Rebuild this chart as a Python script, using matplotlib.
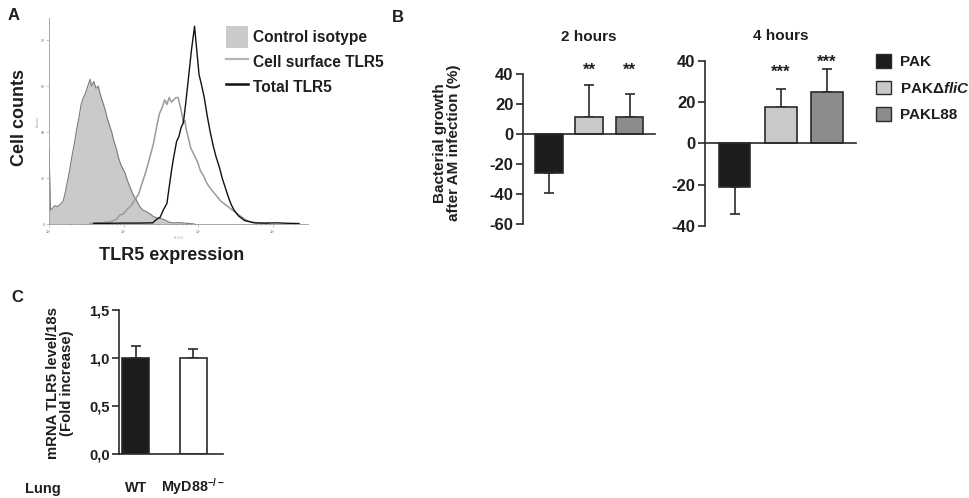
import matplotlib

matplotlib.use("Agg")
import matplotlib.pyplot as plt
import numpy as np
from matplotlib.lines import Line2D
from matplotlib.patches import Patch

plt.rcParams["font.family"] = ["Liberation Sans", "DejaVu Sans"]
plt.rcParams["font.weight"] = "bold"
plt.rcParams["axes.labelweight"] = "bold"
plt.rcParams["axes.unicode_minus"] = False
plt.rcParams["mathtext.fontset"] = "custom"
plt.rcParams["mathtext.rm"] = "Liberation Sans:bold"
plt.rcParams["mathtext.it"] = "Liberation Sans:italic:bold"
plt.rcParams["mathtext.bf"] = "Liberation Sans:bold"

TXT = "#1e1e1e"
INK = "#2a2a2a"

# ---- panel A: flow histogram (log10 fluorescence, cell counts) ----
iso_log = [0.00, 0.02, 0.05, 0.08, 0.11, 0.15, 0.19, 0.22, 0.25, 0.28, 0.31, 0.34,
           0.37, 0.40, 0.43, 0.46, 0.49, 0.52, 0.55, 0.57, 0.60, 0.63, 0.66, 0.69,
           0.72, 0.75, 0.78, 0.81, 0.84, 0.87, 0.90, 0.93, 0.96, 0.99, 1.02, 1.05,
           1.08, 1.11, 1.14, 1.17, 1.20, 1.23, 1.26, 1.30, 1.35, 1.40, 1.45, 1.50,
           1.55, 1.60, 1.65, 1.75, 1.85, 1.95]
iso_cnt = [33, 6, 7, 8, 7.5, 8.5, 10, 14, 19, 24, 30, 35,
           41, 46, 52, 55, 57, 60, 63, 60, 62, 59, 60, 56,
           53, 50, 46, 43, 40, 36, 33, 29, 26, 24, 22, 19,
           16.5, 14, 12, 10.5, 8.5, 7, 6, 5.5, 4.5, 3.2, 2.6, 2.4,
           1.8, 0.9, 0.5, 0.6, 0.3, 0.0]

surf_log = [0.55, 0.70, 0.82, 0.90, 0.95, 1.00, 1.05, 1.10, 1.15, 1.20, 1.25, 1.30,
            1.35, 1.40, 1.44, 1.48, 1.52, 1.55, 1.58, 1.61, 1.64, 1.67, 1.70, 1.73,
            1.76, 1.78, 1.80, 1.82, 1.84, 1.87, 1.90, 1.93, 1.96, 1.99, 2.03, 2.07,
            2.11, 2.15, 2.20, 2.25, 2.30, 2.36, 2.42, 2.48, 2.54, 2.60, 2.66, 2.72,
            2.82, 2.95]
surf_cnt = [0.3, 0.5, 0.9, 2.0, 3.9, 4.5, 6.5, 8, 10.5, 13, 18, 23,
            29, 35, 42, 48, 51, 54, 52, 55, 53, 54, 55, 55,
            51, 48, 44, 45, 41, 37, 33, 31, 29, 27, 23, 21,
            18, 16, 14, 12, 10, 8.5, 7, 5.5, 4, 2.6, 1.4, 0.8,
            0.4, 0.2]

tot_log = [0.60, 0.80, 1.00, 1.20, 1.39, 1.44, 1.49, 1.53, 1.58, 1.61, 1.64, 1.67,
           1.71, 1.74, 1.77, 1.80, 1.83, 1.85, 1.87, 1.89, 1.91, 1.93, 1.95, 1.97,
           1.99, 2.01, 2.04, 2.08, 2.12, 2.16, 2.20, 2.24, 2.28, 2.32, 2.36, 2.40,
           2.44, 2.48, 2.54, 2.62, 2.75, 2.90, 3.05, 3.20, 3.35]
tot_cnt = [0.3, 0.3, 0.4, 0.4, 0.5, 2, 3, 6, 9, 16, 23, 29,
           36, 38, 42, 44, 52, 58, 64, 70, 76, 81, 86, 79,
           72, 65, 61, 55, 47, 40, 34, 29, 25, 20, 16, 12,
           8.5, 6, 3.5, 1.5, 0.5, 0.4, 0.5, 0.3, 0.2]

# ---- panel B: bacterial growth after AM infection (%) ----
strains = ["PAK", "PAK\u0394$\\mathit{fliC}$", "PAKL88"]
bar_colors = ["#1c1c1c", "#c9c9c9", "#8c8c8c"]
growth_2h = [-25.8, 11.5, 11.5]
err_2h = [13.7, 21.5, 15.0]
stars_2h = ["", "**", "**"]
star_y_2h = [0, 42.7, 42.7]
growth_4h = [-21.4, 17.8, 24.8]
err_4h = [13.1, 8.4, 11.2]
stars_4h = ["", "***", "***"]
star_y_4h = [0, 34.3, 39.6]

# ---- panel C: TLR5 mRNA ----
mice = ["WT", "MyD88$^{-/-}$"]
mrna = [1.0, 1.0]
mrna_err = [0.13, 0.09]
mice_colors = ["#1c1c1c", "white"]

W, H = 970, 498
fig = plt.figure(figsize=(W / 100, H / 100), dpi=100)


def box(l, t, r, b):
    return [l / W, 1 - b / H, (r - l) / W, (b - t) / H]


# ================= A =================
axA = fig.add_axes(box(49, 18, 308, 224))
xi = 10 ** np.array(iso_log)
axA.fill_between(xi, iso_cnt, color="#cacaca", lw=0)
axA.plot(xi, iso_cnt, color="#7a7a7a", lw=0.8)
axA.plot(10 ** np.array(surf_log), surf_cnt, color="#9a9a9a", lw=1.1)
axA.plot(10 ** np.array(tot_log), tot_cnt, color="#111111", lw=1.0)
axA.set_xscale("log")
axA.set_xlim(1, 10 ** 3.47)
axA.set_ylim(0, 89.6)
axA.set_yticks([0, 20, 40, 60, 80])
for s in ["top", "right"]:
    axA.spines[s].set_visible(False)
for s in ["left", "bottom"]:
    axA.spines[s].set_color("#9a9a9a")
    axA.spines[s].set_linewidth(0.6)
axA.tick_params(which="both", colors="#9a9a9a", labelsize=2.5, length=2, width=0.4, pad=1)
axA.tick_params(which="minor", length=1)
axA.set_xlabel("FL1-H", fontsize=2.5, color="#9a9a9a", labelpad=0.5, fontweight="normal")
axA.set_ylabel("Counts", fontsize=2.5, color="#9a9a9a", labelpad=0.5, fontweight="normal")
fig.text(20 / W, 1 - 117 / H, "Cell counts", rotation=90, ha="center", va="center",
         fontsize=13, color=TXT)
fig.text(172 / W, 1 - 255 / H, "TLR5 expression", ha="center", va="center",
         fontsize=13, color=TXT)
fig.text(14 / W, 1 - 15 / H, "A", ha="center", va="center", fontsize=12, color=TXT)
handlesA = [Patch(facecolor="#cacaca", edgecolor="none"),
            Line2D([], [], color="#b5b5b5", lw=1.6),
            Line2D([], [], color="#111111", lw=1.8)]
fig.legend(handlesA, ["Control isotype", "Cell surface TLR5", "Total TLR5"],
           loc="upper left", bbox_to_anchor=(226 / W, 1 - 26 / H), frameon=False,
           fontsize=11.2, handlelength=1.41, handleheight=1.79, labelspacing=0.2,
           handletextpad=0.35, borderpad=0, borderaxespad=0, labelcolor=TXT)


# ================= B =================
def growth_panel(ax, vals, errs, stars, star_y, ylo, yhi, step, title, title_y):
    x = np.arange(len(vals))
    ax.bar(x, vals, width=0.69, color=bar_colors, edgecolor=INK, lw=1.2, zorder=2)
    for xx, v, e in zip(x, vals, errs):
        lo = e if v < 0 else 0
        hi = e if v > 0 else 0
        ax.errorbar(xx, v, yerr=[[lo], [hi]], fmt="none", ecolor=INK, elinewidth=1.2,
                    capsize=3.5, capthick=1.2, zorder=1)
    for xx, sy, st in zip(x, star_y, stars):
        if st:
            ax.text(xx, sy, st, ha="center", va="center", fontsize=12, color=TXT,
                    clip_on=False)
    ax.set_xlim(-0.64, 2.63)
    ax.set_ylim(ylo, yhi)
    ax.set_yticks(np.arange(ylo, yhi + 1, step))
    ax.set_xticks([])
    for s in ["top", "right"]:
        ax.spines[s].set_visible(False)
    ax.spines["bottom"].set_position(("data", 0))
    for s in ["left", "bottom"]:
        ax.spines[s].set_color(INK)
        ax.spines[s].set_linewidth(1.2)
    ax.tick_params(axis="y", labelsize=12, length=5, width=1.2, colors=INK,
                   labelcolor=TXT, pad=2)
    ax.text(0.5, title_y, title, transform=ax.transAxes, ha="center", va="center",
            fontsize=11, color=TXT)


axB1 = fig.add_axes(box(523, 74, 655, 224))
growth_panel(axB1, growth_2h, err_2h, stars_2h, star_y_2h, -60, 40, 20, "2 hours", 1.249)
axB1.set_ylabel("Bacterial growth\nafter AM infection (%)", fontsize=11, color=TXT,
                linespacing=1.0)
axB1.yaxis.set_label_coords(-0.47, 0.54)
axB2 = fig.add_axes(box(705, 61, 856, 225.7))
growth_panel(axB2, growth_4h, err_4h, stars_4h, star_y_4h, -40, 40, 20, "4 hours", 1.154)
fig.text(398 / W, 1 - 17 / H, "B", ha="center", va="center", fontsize=12, color=TXT)
handlesB = [Patch(facecolor=c, edgecolor=INK, lw=1.0) for c in bar_colors]
fig.legend(handlesB, strains, loc="upper left", bbox_to_anchor=(876 / W, 1 - 54 / H),
           frameon=False, fontsize=11, handlelength=1.0, handleheight=1.0,
           labelspacing=0.75, handletextpad=0.6, borderpad=0, borderaxespad=0,
           labelcolor=TXT)

# ================= C =================
axC = fig.add_axes(box(119.3, 310, 222.7, 454))
xc = np.arange(len(mrna))
axC.bar(xc, mrna, width=0.47, color=mice_colors, edgecolor=INK, lw=1.2, zorder=2)
axC.errorbar(xc, mrna, yerr=[[0] * len(mrna), mrna_err], fmt="none", ecolor=INK,
             elinewidth=1.2, capsize=3.5, capthick=1.2, zorder=1)
axC.set_xlim(-0.285, 1.51)
axC.set_ylim(0, 1.5)
axC.set_yticks([0, 0.5, 1.0, 1.5])
axC.set_yticklabels(["0,0", "0,5", "1,0", "1,5"])
axC.set_xticks(xc)
axC.set_xticklabels(mice)
for lab in axC.get_xticklabels():
    lab.set_verticalalignment("baseline")
for s in ["top", "right"]:
    axC.spines[s].set_visible(False)
for s in ["left", "bottom"]:
    axC.spines[s].set_color(INK)
    axC.spines[s].set_linewidth(1.2)
axC.tick_params(axis="y", labelsize=10.5, length=5, width=1.2, colors=INK,
                labelcolor=TXT, pad=2)
axC.tick_params(axis="x", labelsize=10.3, length=0, pad=27, labelcolor=TXT)
axC.set_ylabel("mRNA TLR5 level/18s\n(Fold increase)", fontsize=10.7, color=TXT,
               linespacing=1.0)
axC.yaxis.set_label_coords(-0.44, 0.49)
axC.text(-1.61, -0.27, "Lung", ha="center", va="baseline", fontsize=10.5, color=TXT,
         transform=axC.get_xaxis_transform(), clip_on=False)
fig.text(17 / W, 1 - 297 / H, "C", ha="center", va="center", fontsize=12, color=TXT)

fig.savefig("out.png", dpi=100)
